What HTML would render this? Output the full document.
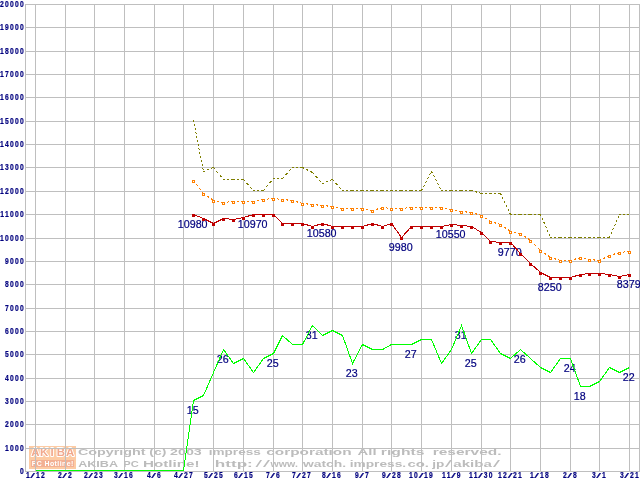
<!DOCTYPE html>
<html lang="ja"><head><meta charset="utf-8"><title>AKIBA PC Hotline! price chart</title>
<style>
html,body{margin:0;padding:0;background:#fff;}
body{width:640px;height:480px;overflow:hidden;position:relative;font-family:"Liberation Sans",sans-serif;}
#chart{position:absolute;left:0;top:0;width:640px;height:480px;overflow:hidden;background:#fff;}
svg{position:absolute;left:0;top:0;}
.ax{position:absolute;color:#00007f;font-family:"Liberation Sans",sans-serif;font-weight:bold;font-size:8.6px;line-height:10px;height:10px;white-space:pre;letter-spacing:1.6px;transform:scaleX(0.784);transform-origin:0 0;-webkit-text-stroke:0.22px #00007f;}
.ax i{font-style:normal;display:inline-block;width:4.78px;text-align:center;transform:scale(2.5,0.85);transform-origin:50% 72%;font-weight:normal;letter-spacing:0;margin-right:1.6px;}
.yl{text-align:right;}
.v{position:absolute;color:#00007f;font-family:"Liberation Sans",sans-serif;font-size:10.7px;line-height:12px;height:12px;width:60px;text-align:center;white-space:pre;-webkit-text-stroke:0.2px #00007f;}
#logo{position:absolute;left:29px;top:446px;width:47px;height:23px;background:#fdcba4;overflow:hidden;}
</style></head><body><div id="chart">
<svg width="640" height="480" viewBox="0 0 640 480" shape-rendering="crispEdges">
<path d="M25 4.5H640M25 27.5H640M25 51.5H640M25 74.5H640M25 97.5H640M25 121.5H640M25 144.5H640M25 167.5H640M25 191.5H640M25 214.5H640M25 238.5H640M25 261.5H640M25 284.5H640M25 308.5H640M25 331.5H640M25 354.5H640M25 378.5H640M25 401.5H640M25 424.5H640M25 448.5H640M25 471.5H640M35.5 4V472M65.5 4V472M94.5 4V472M124.5 4V472M154.5 4V472M183.5 4V472M213.5 4V472M243.5 4V472M273.5 4V472M302.5 4V472M332.5 4V472M362.5 4V472M391.5 4V472M421.5 4V472M451.5 4V472M481.5 4V472M510.5 4V472M540.5 4V472M570.5 4V472M599.5 4V472M629.5 4V472M25.5 4V472M639.5 4V472" stroke="#bfbfbf" stroke-width="1" fill="none"/>
</svg>
<div id="logo"><svg width="47" height="23" viewBox="0 0 47 23"><rect x="2" y="14" width="43" height="7" fill="#f3b094"/><g font-family="Liberation Sans, sans-serif" font-weight="bold" text-anchor="middle"><g font-size="11.4" fill="#f2a88c" stroke="#fff" stroke-width="1.9" stroke-linejoin="round" paint-order="stroke"><text x="6.4 15.2 23.1 31.8 41" y="10.2">AKIBA</text></g><text x="23.5" y="19.8" font-size="6.9" fill="#fff" textLength="41.5" lengthAdjust="spacing">PC Hotline!</text></g></svg></div>
<svg width="640" height="480" viewBox="0 0 640 480" font-family="Liberation Sans, sans-serif" font-weight="bold" font-size="9.3" fill="#bcbcbc">
<text y="455.0"><tspan x="77.91" textLength="67.66" lengthAdjust="spacingAndGlyphs">Copyright</tspan><tspan x="149.32" textLength="16.96" lengthAdjust="spacingAndGlyphs">(c)</tspan><tspan x="170.12" textLength="31.63" lengthAdjust="spacingAndGlyphs">2003</tspan> <tspan x="208.82" textLength="51.93" lengthAdjust="spacingAndGlyphs">impress</tspan> <tspan x="266.30" textLength="85.25" lengthAdjust="spacingAndGlyphs">corporation</tspan> <tspan x="357.64" textLength="18.99" lengthAdjust="spacingAndGlyphs">All</tspan> <tspan x="380.88" textLength="43.50" lengthAdjust="spacingAndGlyphs">rights</tspan> <tspan x="432.74" textLength="68.82" lengthAdjust="spacingAndGlyphs">reserved.</tspan></text>
<text y="467.0"><tspan x="78.20" textLength="39.32" lengthAdjust="spacingAndGlyphs">AKIBA</tspan> <tspan x="123.37" textLength="15.44" lengthAdjust="spacingAndGlyphs">PC</tspan> <tspan x="143.10" textLength="56.44" lengthAdjust="spacingAndGlyphs">Hotline!</tspan> <tspan x="214.82" textLength="38.03" lengthAdjust="spacingAndGlyphs">http:</tspan><tspan x="255.40" textLength="6.60" lengthAdjust="spacingAndGlyphs" font-weight="normal">/</tspan><tspan x="263.00" textLength="7.00" lengthAdjust="spacingAndGlyphs" font-weight="normal">/</tspan><tspan x="270.63" textLength="27.29" lengthAdjust="spacingAndGlyphs">www.</tspan><tspan x="303.04" textLength="43.11" lengthAdjust="spacingAndGlyphs">watch.</tspan><tspan x="349.65" textLength="56.49" lengthAdjust="spacingAndGlyphs">impress.</tspan><tspan x="407.42" textLength="21.50" lengthAdjust="spacingAndGlyphs">co.</tspan><tspan x="432.22" textLength="12.09" lengthAdjust="spacingAndGlyphs">jp</tspan><tspan x="445.00" textLength="6.90" lengthAdjust="spacingAndGlyphs" font-weight="normal">/</tspan><tspan x="453.31" textLength="38.48" lengthAdjust="spacingAndGlyphs">akiba</tspan><tspan x="493.00" textLength="7.00" lengthAdjust="spacingAndGlyphs" font-weight="normal">/</tspan></text>
</svg>
<svg width="640" height="480" viewBox="0 0 640 480" shape-rendering="crispEdges">
<path d="M35.5 446V470M65.5 446V470M29 448.5H76" stroke="#bfbfbf" stroke-width="1" fill="none"/>
</svg>
<div class="v" style="left:162.7px;top:218px;">10980</div>
<div class="v" style="left:222.7px;top:218px;">10970</div>
<div class="v" style="left:291.7px;top:227px;">10580</div>
<div class="v" style="left:370.7px;top:241px;">9980</div>
<div class="v" style="left:420.7px;top:228px;">10550</div>
<div class="v" style="left:479.7px;top:246px;">9770</div>
<div class="v" style="left:519.7px;top:281px;">8250</div>
<div class="v" style="left:598.7px;top:278px;">8379</div>
<div class="v" style="left:162.7px;top:404px;">15</div>
<div class="v" style="left:192.7px;top:353px;">26</div>
<div class="v" style="left:242.7px;top:357px;">25</div>
<div class="v" style="left:281.7px;top:329px;">31</div>
<div class="v" style="left:321.7px;top:367px;">23</div>
<div class="v" style="left:380.7px;top:348px;">27</div>
<div class="v" style="left:430.7px;top:329px;">31</div>
<div class="v" style="left:440.7px;top:357px;">25</div>
<div class="v" style="left:489.7px;top:353px;">26</div>
<div class="v" style="left:539.7px;top:362px;">24</div>
<div class="v" style="left:549.7px;top:390px;">18</div>
<div class="v" style="left:598.7px;top:371px;">22</div>
<svg width="640" height="480" viewBox="0 0 640 480" shape-rendering="crispEdges">
<g stroke-width="1" fill="none">
<line x1="193.40" y1="120.00" x2="203.40" y2="171.00" stroke="#7f7f00" stroke-dasharray="2.04 2.04"/>
<line x1="203.00" y1="171.70" x2="213.00" y2="167.70" stroke="#7f7f00" stroke-dasharray="2.15 2.15"/>
<line x1="213.08" y1="167.00" x2="223.08" y2="179.00" stroke="#7f7f00" stroke-dasharray="2.60 2.60"/>
<line x1="223.00" y1="179.50" x2="233.00" y2="179.50" stroke="#7f7f00" stroke-dasharray="2.00 2.00"/>
<line x1="233.00" y1="179.50" x2="243.00" y2="179.50" stroke="#7f7f00" stroke-dasharray="2.00 2.00"/>
<line x1="243.05" y1="179.00" x2="253.05" y2="190.00" stroke="#7f7f00" stroke-dasharray="2.70 2.70"/>
<line x1="253.00" y1="190.50" x2="263.00" y2="190.50" stroke="#7f7f00" stroke-dasharray="2.00 2.00"/>
<line x1="263.08" y1="191.00" x2="273.08" y2="179.00" stroke="#7f7f00" stroke-dasharray="2.60 2.60"/>
<line x1="273.00" y1="178.50" x2="282.00" y2="178.50" stroke="#7f7f00" stroke-dasharray="2.00 2.00"/>
<line x1="282.05" y1="179.00" x2="292.05" y2="168.00" stroke="#7f7f00" stroke-dasharray="2.70 2.70"/>
<line x1="292.00" y1="167.50" x2="302.00" y2="167.50" stroke="#7f7f00" stroke-dasharray="2.00 2.00"/>
<line x1="302.00" y1="167.25" x2="312.00" y2="172.25" stroke="#7f7f00" stroke-dasharray="2.24 2.24"/>
<line x1="312.05" y1="172.00" x2="322.05" y2="183.00" stroke="#7f7f00" stroke-dasharray="2.70 2.70"/>
<line x1="322.00" y1="183.70" x2="332.00" y2="179.70" stroke="#7f7f00" stroke-dasharray="2.15 2.15"/>
<line x1="332.05" y1="179.00" x2="342.05" y2="190.00" stroke="#7f7f00" stroke-dasharray="2.70 2.70"/>
<line x1="342.00" y1="190.50" x2="352.00" y2="190.50" stroke="#7f7f00" stroke-dasharray="2.00 2.00"/>
<line x1="352.00" y1="190.50" x2="362.00" y2="190.50" stroke="#7f7f00" stroke-dasharray="2.00 2.00"/>
<line x1="362.00" y1="190.50" x2="372.00" y2="190.50" stroke="#7f7f00" stroke-dasharray="2.00 2.00"/>
<line x1="372.00" y1="190.50" x2="382.00" y2="190.50" stroke="#7f7f00" stroke-dasharray="2.00 2.00"/>
<line x1="382.00" y1="190.50" x2="391.00" y2="190.50" stroke="#7f7f00" stroke-dasharray="2.00 2.00"/>
<line x1="391.00" y1="190.50" x2="401.00" y2="190.50" stroke="#7f7f00" stroke-dasharray="2.00 2.00"/>
<line x1="401.00" y1="190.50" x2="411.00" y2="190.50" stroke="#7f7f00" stroke-dasharray="2.00 2.00"/>
<line x1="411.00" y1="190.50" x2="421.00" y2="190.50" stroke="#7f7f00" stroke-dasharray="2.00 2.00"/>
<line x1="421.24" y1="191.00" x2="431.24" y2="172.00" stroke="#7f7f00" stroke-dasharray="2.26 2.26"/>
<line x1="431.24" y1="171.00" x2="441.24" y2="190.00" stroke="#7f7f00" stroke-dasharray="2.26 2.26"/>
<line x1="441.00" y1="190.50" x2="451.00" y2="190.50" stroke="#7f7f00" stroke-dasharray="2.00 2.00"/>
<line x1="451.00" y1="190.50" x2="461.00" y2="190.50" stroke="#7f7f00" stroke-dasharray="2.00 2.00"/>
<line x1="461.00" y1="190.50" x2="471.00" y2="190.50" stroke="#7f7f00" stroke-dasharray="2.00 2.00"/>
<line x1="471.00" y1="190.35" x2="481.00" y2="193.35" stroke="#7f7f00" stroke-dasharray="2.09 2.09"/>
<line x1="481.00" y1="193.50" x2="490.00" y2="193.50" stroke="#7f7f00" stroke-dasharray="2.00 2.00"/>
<line x1="490.00" y1="193.50" x2="500.00" y2="193.50" stroke="#7f7f00" stroke-dasharray="2.00 2.00"/>
<line x1="500.26" y1="193.00" x2="510.26" y2="214.00" stroke="#7f7f00" stroke-dasharray="2.22 2.22"/>
<line x1="510.00" y1="214.50" x2="520.00" y2="214.50" stroke="#7f7f00" stroke-dasharray="2.00 2.00"/>
<line x1="520.00" y1="214.50" x2="530.00" y2="214.50" stroke="#7f7f00" stroke-dasharray="2.00 2.00"/>
<line x1="530.00" y1="214.50" x2="540.00" y2="214.50" stroke="#7f7f00" stroke-dasharray="2.00 2.00"/>
<line x1="540.28" y1="214.00" x2="550.28" y2="237.00" stroke="#7f7f00" stroke-dasharray="2.18 2.18"/>
<line x1="550.00" y1="237.50" x2="560.00" y2="237.50" stroke="#7f7f00" stroke-dasharray="2.00 2.00"/>
<line x1="560.00" y1="237.50" x2="570.00" y2="237.50" stroke="#7f7f00" stroke-dasharray="2.00 2.00"/>
<line x1="570.00" y1="237.50" x2="580.00" y2="237.50" stroke="#7f7f00" stroke-dasharray="2.00 2.00"/>
<line x1="580.00" y1="237.50" x2="589.00" y2="237.50" stroke="#7f7f00" stroke-dasharray="2.00 2.00"/>
<line x1="589.00" y1="237.50" x2="599.00" y2="237.50" stroke="#7f7f00" stroke-dasharray="2.00 2.00"/>
<line x1="599.00" y1="237.50" x2="609.00" y2="237.50" stroke="#7f7f00" stroke-dasharray="2.00 2.00"/>
<line x1="609.28" y1="238.00" x2="619.28" y2="215.00" stroke="#7f7f00" stroke-dasharray="2.18 2.18"/>
<line x1="619.00" y1="214.50" x2="629.00" y2="214.50" stroke="#7f7f00" stroke-dasharray="2.00 2.00"/>
</g>
<g stroke-width="1" fill="none">
<line x1="193.12" y1="180.00" x2="203.12" y2="193.00" stroke="#ff7f00" stroke-dasharray="2.52 2.52"/>
<line x1="203.00" y1="193.15" x2="213.00" y2="200.15" stroke="#ff7f00" stroke-dasharray="2.44 2.44"/>
<line x1="213.00" y1="200.40" x2="223.00" y2="202.40" stroke="#ff7f00" stroke-dasharray="2.04 2.04"/>
<line x1="223.00" y1="202.55" x2="233.00" y2="201.55" stroke="#ff7f00" stroke-dasharray="2.01 2.01"/>
<line x1="233.00" y1="201.50" x2="243.00" y2="201.50" stroke="#ff7f00" stroke-dasharray="2.00 2.00"/>
<line x1="243.00" y1="201.50" x2="253.00" y2="201.50" stroke="#ff7f00" stroke-dasharray="2.00 2.00"/>
<line x1="253.00" y1="201.60" x2="263.00" y2="199.60" stroke="#ff7f00" stroke-dasharray="2.04 2.04"/>
<line x1="263.00" y1="199.55" x2="273.00" y2="198.55" stroke="#ff7f00" stroke-dasharray="2.01 2.01"/>
<line x1="273.00" y1="198.44" x2="282.00" y2="199.44" stroke="#ff7f00" stroke-dasharray="2.01 2.01"/>
<line x1="282.00" y1="199.45" x2="292.00" y2="200.45" stroke="#ff7f00" stroke-dasharray="2.01 2.01"/>
<line x1="292.00" y1="200.35" x2="302.00" y2="203.35" stroke="#ff7f00" stroke-dasharray="2.09 2.09"/>
<line x1="302.00" y1="203.45" x2="312.00" y2="204.45" stroke="#ff7f00" stroke-dasharray="2.01 2.01"/>
<line x1="312.00" y1="204.45" x2="322.00" y2="205.45" stroke="#ff7f00" stroke-dasharray="2.01 2.01"/>
<line x1="322.00" y1="205.45" x2="332.00" y2="206.45" stroke="#ff7f00" stroke-dasharray="2.01 2.01"/>
<line x1="332.00" y1="206.40" x2="342.00" y2="208.40" stroke="#ff7f00" stroke-dasharray="2.04 2.04"/>
<line x1="342.00" y1="208.50" x2="352.00" y2="208.50" stroke="#ff7f00" stroke-dasharray="2.00 2.00"/>
<line x1="352.00" y1="208.50" x2="362.00" y2="208.50" stroke="#ff7f00" stroke-dasharray="2.00 2.00"/>
<line x1="362.00" y1="208.40" x2="372.00" y2="210.40" stroke="#ff7f00" stroke-dasharray="2.04 2.04"/>
<line x1="372.00" y1="210.65" x2="382.00" y2="207.65" stroke="#ff7f00" stroke-dasharray="2.09 2.09"/>
<line x1="382.00" y1="207.44" x2="391.00" y2="208.44" stroke="#ff7f00" stroke-dasharray="2.01 2.01"/>
<line x1="391.00" y1="208.50" x2="401.00" y2="208.50" stroke="#ff7f00" stroke-dasharray="2.00 2.00"/>
<line x1="401.00" y1="208.55" x2="411.00" y2="207.55" stroke="#ff7f00" stroke-dasharray="2.01 2.01"/>
<line x1="411.00" y1="207.50" x2="421.00" y2="207.50" stroke="#ff7f00" stroke-dasharray="2.00 2.00"/>
<line x1="421.00" y1="207.50" x2="431.00" y2="207.50" stroke="#ff7f00" stroke-dasharray="2.00 2.00"/>
<line x1="431.00" y1="207.50" x2="441.00" y2="207.50" stroke="#ff7f00" stroke-dasharray="2.00 2.00"/>
<line x1="441.00" y1="207.40" x2="451.00" y2="209.40" stroke="#ff7f00" stroke-dasharray="2.04 2.04"/>
<line x1="451.00" y1="209.40" x2="461.00" y2="211.40" stroke="#ff7f00" stroke-dasharray="2.04 2.04"/>
<line x1="461.00" y1="211.45" x2="471.00" y2="212.45" stroke="#ff7f00" stroke-dasharray="2.01 2.01"/>
<line x1="471.00" y1="212.35" x2="481.00" y2="215.35" stroke="#ff7f00" stroke-dasharray="2.09 2.09"/>
<line x1="481.00" y1="215.17" x2="490.00" y2="221.17" stroke="#ff7f00" stroke-dasharray="2.40 2.40"/>
<line x1="490.00" y1="221.35" x2="500.00" y2="224.35" stroke="#ff7f00" stroke-dasharray="2.09 2.09"/>
<line x1="500.00" y1="224.15" x2="510.00" y2="231.15" stroke="#ff7f00" stroke-dasharray="2.44 2.44"/>
<line x1="510.00" y1="231.40" x2="520.00" y2="233.40" stroke="#ff7f00" stroke-dasharray="2.04 2.04"/>
<line x1="520.00" y1="233.15" x2="530.00" y2="240.15" stroke="#ff7f00" stroke-dasharray="2.44 2.44"/>
<line x1="530.00" y1="240.00" x2="540.00" y2="250.00" stroke="#ff7f00" stroke-dasharray="2.83 2.83"/>
<line x1="540.00" y1="250.15" x2="550.00" y2="257.15" stroke="#ff7f00" stroke-dasharray="2.44 2.44"/>
<line x1="550.00" y1="257.35" x2="560.00" y2="260.35" stroke="#ff7f00" stroke-dasharray="2.09 2.09"/>
<line x1="560.00" y1="260.50" x2="570.00" y2="260.50" stroke="#ff7f00" stroke-dasharray="2.00 2.00"/>
<line x1="570.00" y1="260.65" x2="580.00" y2="257.65" stroke="#ff7f00" stroke-dasharray="2.09 2.09"/>
<line x1="580.00" y1="257.39" x2="589.00" y2="259.39" stroke="#ff7f00" stroke-dasharray="2.05 2.05"/>
<line x1="589.00" y1="259.45" x2="599.00" y2="260.45" stroke="#ff7f00" stroke-dasharray="2.01 2.01"/>
<line x1="599.00" y1="260.75" x2="609.00" y2="255.75" stroke="#ff7f00" stroke-dasharray="2.24 2.24"/>
<line x1="609.00" y1="255.65" x2="619.00" y2="252.65" stroke="#ff7f00" stroke-dasharray="2.09 2.09"/>
<line x1="619.00" y1="252.55" x2="629.00" y2="251.55" stroke="#ff7f00" stroke-dasharray="2.01 2.01"/>
<rect x="192.5" y="180.5" width="2" height="2" fill="#fff" stroke="#ff7f00"/>
<rect x="202.5" y="193.5" width="2" height="2" fill="#fff" stroke="#ff7f00"/>
<rect x="212.5" y="200.5" width="2" height="2" fill="#fff" stroke="#ff7f00"/>
<rect x="222.5" y="202.5" width="2" height="2" fill="#fff" stroke="#ff7f00"/>
<rect x="232.5" y="201.5" width="2" height="2" fill="#fff" stroke="#ff7f00"/>
<rect x="242.5" y="201.5" width="2" height="2" fill="#fff" stroke="#ff7f00"/>
<rect x="252.5" y="201.5" width="2" height="2" fill="#fff" stroke="#ff7f00"/>
<rect x="262.5" y="199.5" width="2" height="2" fill="#fff" stroke="#ff7f00"/>
<rect x="272.5" y="198.5" width="2" height="2" fill="#fff" stroke="#ff7f00"/>
<rect x="281.5" y="199.5" width="2" height="2" fill="#fff" stroke="#ff7f00"/>
<rect x="291.5" y="200.5" width="2" height="2" fill="#fff" stroke="#ff7f00"/>
<rect x="301.5" y="203.5" width="2" height="2" fill="#fff" stroke="#ff7f00"/>
<rect x="311.5" y="204.5" width="2" height="2" fill="#fff" stroke="#ff7f00"/>
<rect x="321.5" y="205.5" width="2" height="2" fill="#fff" stroke="#ff7f00"/>
<rect x="331.5" y="206.5" width="2" height="2" fill="#fff" stroke="#ff7f00"/>
<rect x="341.5" y="208.5" width="2" height="2" fill="#fff" stroke="#ff7f00"/>
<rect x="351.5" y="208.5" width="2" height="2" fill="#fff" stroke="#ff7f00"/>
<rect x="361.5" y="208.5" width="2" height="2" fill="#fff" stroke="#ff7f00"/>
<rect x="371.5" y="210.5" width="2" height="2" fill="#fff" stroke="#ff7f00"/>
<rect x="381.5" y="207.5" width="2" height="2" fill="#fff" stroke="#ff7f00"/>
<rect x="390.5" y="208.5" width="2" height="2" fill="#fff" stroke="#ff7f00"/>
<rect x="400.5" y="208.5" width="2" height="2" fill="#fff" stroke="#ff7f00"/>
<rect x="410.5" y="207.5" width="2" height="2" fill="#fff" stroke="#ff7f00"/>
<rect x="420.5" y="207.5" width="2" height="2" fill="#fff" stroke="#ff7f00"/>
<rect x="430.5" y="207.5" width="2" height="2" fill="#fff" stroke="#ff7f00"/>
<rect x="440.5" y="207.5" width="2" height="2" fill="#fff" stroke="#ff7f00"/>
<rect x="450.5" y="209.5" width="2" height="2" fill="#fff" stroke="#ff7f00"/>
<rect x="460.5" y="211.5" width="2" height="2" fill="#fff" stroke="#ff7f00"/>
<rect x="470.5" y="212.5" width="2" height="2" fill="#fff" stroke="#ff7f00"/>
<rect x="480.5" y="215.5" width="2" height="2" fill="#fff" stroke="#ff7f00"/>
<rect x="489.5" y="221.5" width="2" height="2" fill="#fff" stroke="#ff7f00"/>
<rect x="499.5" y="224.5" width="2" height="2" fill="#fff" stroke="#ff7f00"/>
<rect x="509.5" y="231.5" width="2" height="2" fill="#fff" stroke="#ff7f00"/>
<rect x="519.5" y="233.5" width="2" height="2" fill="#fff" stroke="#ff7f00"/>
<rect x="529.5" y="240.5" width="2" height="2" fill="#fff" stroke="#ff7f00"/>
<rect x="539.5" y="250.5" width="2" height="2" fill="#fff" stroke="#ff7f00"/>
<rect x="549.5" y="257.5" width="2" height="2" fill="#fff" stroke="#ff7f00"/>
<rect x="559.5" y="260.5" width="2" height="2" fill="#fff" stroke="#ff7f00"/>
<rect x="569.5" y="260.5" width="2" height="2" fill="#fff" stroke="#ff7f00"/>
<rect x="579.5" y="257.5" width="2" height="2" fill="#fff" stroke="#ff7f00"/>
<rect x="588.5" y="259.5" width="2" height="2" fill="#fff" stroke="#ff7f00"/>
<rect x="598.5" y="260.5" width="2" height="2" fill="#fff" stroke="#ff7f00"/>
<rect x="608.5" y="255.5" width="2" height="2" fill="#fff" stroke="#ff7f00"/>
<rect x="618.5" y="252.5" width="2" height="2" fill="#fff" stroke="#ff7f00"/>
<rect x="628.5" y="251.5" width="2" height="2" fill="#fff" stroke="#ff7f00"/>
</g>
<polyline points="193.5,214.5 203.5,218.5 213.5,223.5 223.5,218.5 233.5,219.5 243.5,217.5 253.5,214.5 263.5,214.5 273.5,214.5 282.5,223.5 292.5,223.5 302.5,223.5 312.5,226.5 322.5,223.5 332.5,226.5 342.5,226.5 352.5,226.5 362.5,226.5 372.5,223.5 382.5,226.5 391.5,223.5 401.5,237.5 411.5,226.5 421.5,226.5 431.5,226.5 441.5,226.5 451.5,224.5 461.5,225.5 471.5,226.5 481.5,232.5 490.5,241.5 500.5,242.5 510.5,242.5 520.5,253.5 530.5,263.5 540.5,272.5 550.5,277.5 560.5,277.5 570.5,277.5 580.5,274.5 589.5,273.5 599.5,273.5 609.5,274.5 619.5,276.5 629.5,274.5" stroke="#bf0000" stroke-width="1" fill="none"/>
<rect x="192" y="214" width="3" height="3" fill="#bf0000"/>
<rect x="202" y="218" width="3" height="3" fill="#bf0000"/>
<rect x="212" y="223" width="3" height="3" fill="#bf0000"/>
<rect x="222" y="218" width="3" height="3" fill="#bf0000"/>
<rect x="232" y="219" width="3" height="3" fill="#bf0000"/>
<rect x="242" y="217" width="3" height="3" fill="#bf0000"/>
<rect x="252" y="214" width="3" height="3" fill="#bf0000"/>
<rect x="262" y="214" width="3" height="3" fill="#bf0000"/>
<rect x="272" y="214" width="3" height="3" fill="#bf0000"/>
<rect x="281" y="223" width="3" height="3" fill="#bf0000"/>
<rect x="291" y="223" width="3" height="3" fill="#bf0000"/>
<rect x="301" y="223" width="3" height="3" fill="#bf0000"/>
<rect x="311" y="226" width="3" height="3" fill="#bf0000"/>
<rect x="321" y="223" width="3" height="3" fill="#bf0000"/>
<rect x="331" y="226" width="3" height="3" fill="#bf0000"/>
<rect x="341" y="226" width="3" height="3" fill="#bf0000"/>
<rect x="351" y="226" width="3" height="3" fill="#bf0000"/>
<rect x="361" y="226" width="3" height="3" fill="#bf0000"/>
<rect x="371" y="223" width="3" height="3" fill="#bf0000"/>
<rect x="381" y="226" width="3" height="3" fill="#bf0000"/>
<rect x="390" y="223" width="3" height="3" fill="#bf0000"/>
<rect x="400" y="237" width="3" height="3" fill="#bf0000"/>
<rect x="410" y="226" width="3" height="3" fill="#bf0000"/>
<rect x="420" y="226" width="3" height="3" fill="#bf0000"/>
<rect x="430" y="226" width="3" height="3" fill="#bf0000"/>
<rect x="440" y="226" width="3" height="3" fill="#bf0000"/>
<rect x="450" y="224" width="3" height="3" fill="#bf0000"/>
<rect x="460" y="225" width="3" height="3" fill="#bf0000"/>
<rect x="470" y="226" width="3" height="3" fill="#bf0000"/>
<rect x="480" y="232" width="3" height="3" fill="#bf0000"/>
<rect x="489" y="241" width="3" height="3" fill="#bf0000"/>
<rect x="499" y="242" width="3" height="3" fill="#bf0000"/>
<rect x="509" y="242" width="3" height="3" fill="#bf0000"/>
<rect x="519" y="253" width="3" height="3" fill="#bf0000"/>
<rect x="529" y="263" width="3" height="3" fill="#bf0000"/>
<rect x="539" y="272" width="3" height="3" fill="#bf0000"/>
<rect x="549" y="277" width="3" height="3" fill="#bf0000"/>
<rect x="559" y="277" width="3" height="3" fill="#bf0000"/>
<rect x="569" y="277" width="3" height="3" fill="#bf0000"/>
<rect x="579" y="274" width="3" height="3" fill="#bf0000"/>
<rect x="588" y="273" width="3" height="3" fill="#bf0000"/>
<rect x="598" y="273" width="3" height="3" fill="#bf0000"/>
<rect x="608" y="274" width="3" height="3" fill="#bf0000"/>
<rect x="618" y="276" width="3" height="3" fill="#bf0000"/>
<rect x="628" y="274" width="3" height="3" fill="#bf0000"/>
<polyline points="35.5,470.5 183.5,470.5 193.5,400.5 203.5,395.5 213.5,372.5 223.5,349.5 233.5,363.5 243.5,358.5 253.5,372.5 263.5,358.5 273.5,353.5 282.5,335.5 292.5,344.5 302.5,344.5 312.5,325.5 322.5,335.5 332.5,330.5 342.5,335.5 352.5,363.5 362.5,344.5 372.5,349.5 382.5,349.5 391.5,344.5 401.5,344.5 411.5,344.5 421.5,339.5 431.5,339.5 441.5,363.5 451.5,349.5 461.5,325.5 471.5,353.5 481.5,339.5 490.5,339.5 500.5,353.5 510.5,358.5 520.5,349.5 530.5,358.5 540.5,367.5 550.5,372.5 560.5,358.5 570.5,358.5 580.5,386.5 589.5,386.5 599.5,381.5 609.5,367.5 619.5,372.5 629.5,367.5" stroke="#00ff00" stroke-width="1" fill="none"/>
</svg>
<div class="ax yl" style="left:-14.7px;top:-1px;width:40px;transform-origin:100% 0;">20000</div>
<div class="ax yl" style="left:-14.7px;top:22px;width:40px;transform-origin:100% 0;">19000</div>
<div class="ax yl" style="left:-14.7px;top:46px;width:40px;transform-origin:100% 0;">18000</div>
<div class="ax yl" style="left:-14.7px;top:69px;width:40px;transform-origin:100% 0;">17000</div>
<div class="ax yl" style="left:-14.7px;top:92px;width:40px;transform-origin:100% 0;">16000</div>
<div class="ax yl" style="left:-14.7px;top:116px;width:40px;transform-origin:100% 0;">15000</div>
<div class="ax yl" style="left:-14.7px;top:139px;width:40px;transform-origin:100% 0;">14000</div>
<div class="ax yl" style="left:-14.7px;top:162px;width:40px;transform-origin:100% 0;">13000</div>
<div class="ax yl" style="left:-14.7px;top:186px;width:40px;transform-origin:100% 0;">12000</div>
<div class="ax yl" style="left:-14.7px;top:209px;width:40px;transform-origin:100% 0;">11000</div>
<div class="ax yl" style="left:-14.7px;top:233px;width:40px;transform-origin:100% 0;">10000</div>
<div class="ax yl" style="left:-14.7px;top:256px;width:40px;transform-origin:100% 0;">9000</div>
<div class="ax yl" style="left:-14.7px;top:279px;width:40px;transform-origin:100% 0;">8000</div>
<div class="ax yl" style="left:-14.7px;top:303px;width:40px;transform-origin:100% 0;">7000</div>
<div class="ax yl" style="left:-14.7px;top:326px;width:40px;transform-origin:100% 0;">6000</div>
<div class="ax yl" style="left:-14.7px;top:349px;width:40px;transform-origin:100% 0;">5000</div>
<div class="ax yl" style="left:-14.7px;top:373px;width:40px;transform-origin:100% 0;">4000</div>
<div class="ax yl" style="left:-14.7px;top:396px;width:40px;transform-origin:100% 0;">3000</div>
<div class="ax yl" style="left:-14.7px;top:419px;width:40px;transform-origin:100% 0;">2000</div>
<div class="ax yl" style="left:-14.7px;top:443px;width:40px;transform-origin:100% 0;">1000</div>
<div class="ax yl" style="left:-14.7px;top:466px;width:40px;transform-origin:100% 0;">0</div>
<div class="ax" style="left:26px;top:470px;">1<i>/</i>12</div>
<div class="ax" style="left:58px;top:470px;">2<i>/</i>2</div>
<div class="ax" style="left:84px;top:470px;">2<i>/</i>23</div>
<div class="ax" style="left:114px;top:470px;">3<i>/</i>16</div>
<div class="ax" style="left:147px;top:470px;">4<i>/</i>6</div>
<div class="ax" style="left:174px;top:470px;">4<i>/</i>27</div>
<div class="ax" style="left:204px;top:470px;">5<i>/</i>25</div>
<div class="ax" style="left:234px;top:470px;">6<i>/</i>15</div>
<div class="ax" style="left:266px;top:470px;">7<i>/</i>6</div>
<div class="ax" style="left:292px;top:470px;">7<i>/</i>27</div>
<div class="ax" style="left:322px;top:470px;">8<i>/</i>16</div>
<div class="ax" style="left:355px;top:470px;">9<i>/</i>7</div>
<div class="ax" style="left:382px;top:470px;">9<i>/</i>28</div>
<div class="ax" style="left:409px;top:470px;">10<i>/</i>19</div>
<div class="ax" style="left:442px;top:470px;">11<i>/</i>9</div>
<div class="ax" style="left:469px;top:470px;">11<i>/</i>30</div>
<div class="ax" style="left:498px;top:470px;">12<i>/</i>21</div>
<div class="ax" style="left:530px;top:470px;">1<i>/</i>18</div>
<div class="ax" style="left:563px;top:470px;">2<i>/</i>8</div>
<div class="ax" style="left:592px;top:470px;">3<i>/</i>1</div>
<div class="ax" style="left:620px;top:470px;">3<i>/</i>21</div>
</div></body></html>
